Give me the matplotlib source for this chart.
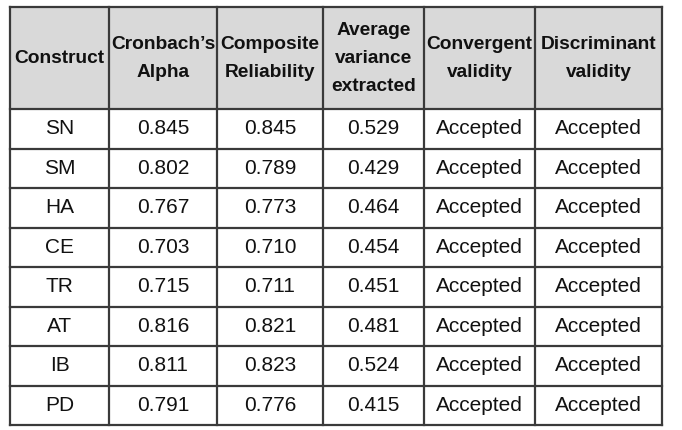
import matplotlib.pyplot as plt
from matplotlib.patches import Rectangle

plt.rcParams['font.family'] = ['Liberation Sans', 'DejaVu Sans']

# table content
headers = ["Construct", "Cronbach\u2019s\nAlpha", "Composite\nReliability",
           "Average\nvariance\nextracted", "Convergent\nvalidity", "Discriminant\nvalidity"]
constructs = ["SN", "SM", "HA", "CE", "TR", "AT", "IB", "PD"]
cronbach = [0.845, 0.802, 0.767, 0.703, 0.715, 0.816, 0.811, 0.791]
composite = [0.845, 0.789, 0.773, 0.710, 0.711, 0.821, 0.823, 0.776]
ave = [0.529, 0.429, 0.464, 0.454, 0.451, 0.481, 0.524, 0.415]
convergent = ["Accepted"] * 8
discriminant = ["Accepted"] * 8

# layout in pixels
col_edges = [10, 109, 217, 323, 424, 535, 662]
top, head_bottom, bottom = 7, 109, 425
border = "#3a3a3a"

fig = plt.figure(figsize=(6.82, 4.30), dpi=100)
ax = fig.add_axes([0, 0, 1, 1])
ax.set_xlim(0, 682)
ax.set_ylim(430, 0)
ax.axis("off")

n_rows = len(constructs)
row_h = (bottom - head_bottom) / n_rows

# header background
ax.add_patch(Rectangle((col_edges[0], top), col_edges[-1] - col_edges[0],
                       head_bottom - top, facecolor="#d9d9d9", edgecolor="none"))

# header text
for i, h in enumerate(headers):
    xc = (col_edges[i] + col_edges[i + 1]) / 2
    ax.text(xc, 58.5, h, ha="center", va="center",
            fontsize=13.8, fontweight="bold", color="#111111", linespacing=1.85)

# body
for r in range(n_rows):
    yc = head_bottom + (r + 0.5) * row_h
    vals = [constructs[r], f"{cronbach[r]:.3f}", f"{composite[r]:.3f}",
            f"{ave[r]:.3f}", convergent[r], discriminant[r]]
    for i, v in enumerate(vals):
        xc = (col_edges[i] + col_edges[i + 1]) / 2
        ax.text(xc, yc, v, ha="center", va="center", fontsize=15, color="#111111")

# grid lines
for x in col_edges:
    ax.plot([x, x], [top, bottom], color=border, lw=1.6, solid_capstyle="projecting")
for k in range(n_rows + 1):
    y = head_bottom + k * row_h
    ax.plot([col_edges[0], col_edges[-1]], [y, y], color=border, lw=1.6,
            solid_capstyle="projecting")
ax.plot([col_edges[0], col_edges[-1]], [top, top], color=border, lw=1.6,
        solid_capstyle="projecting")

fig.savefig("out.png", dpi=100)
